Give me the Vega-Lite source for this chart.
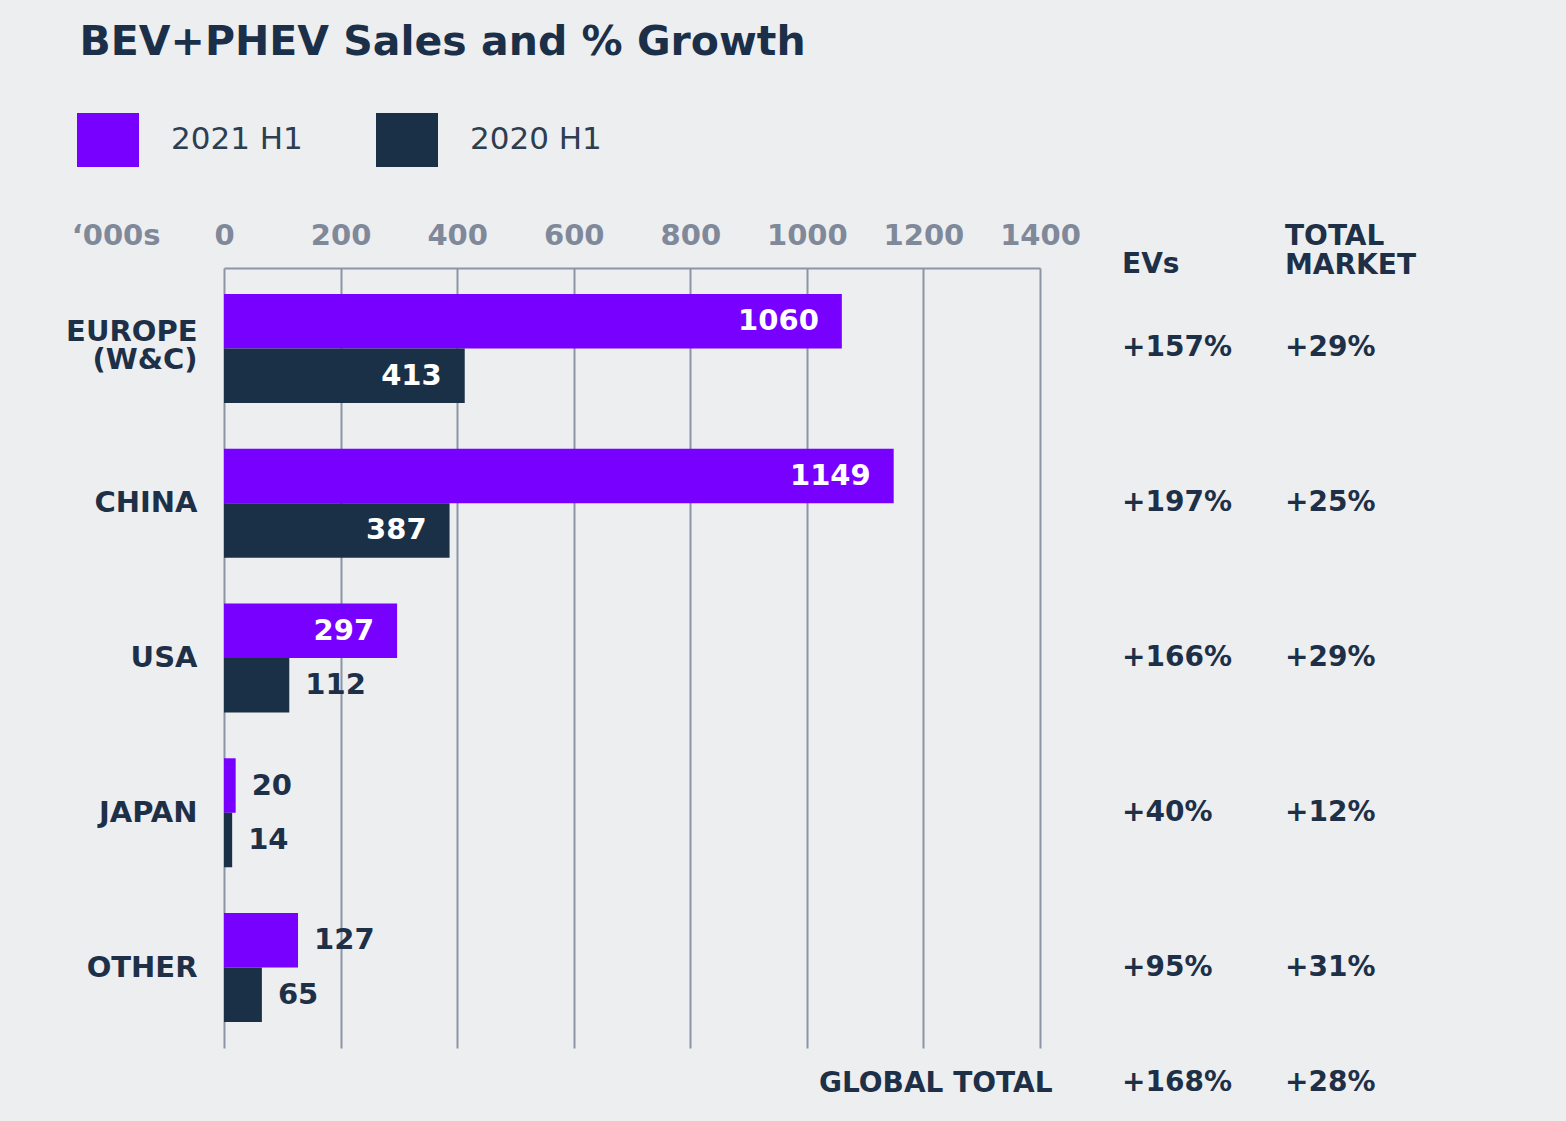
{
  "$schema": "https://vega.github.io/schema/vega-lite/v6.json",
  "background": "#edeef0",
  "padding": {"left": 65, "top": 22, "right": 118, "bottom": 18},
  "title": {"text": "BEV+PHEV Sales and % Growth", "anchor": "start", "fontSize": 41, "font": "DejaVu Sans", "fontWeight": "bold", "color": "#1b3048", "dx": 14, "offset": 45},
  "config": {
    "view": {"stroke": null},
    "font": "DejaVu Sans",
    "text": {"font": "DejaVu Sans", "fontWeight": "bold", "fontSize": 28},
    "axis": {"labelFont": "DejaVu Sans", "labelFontWeight": "bold", "labelFontSize": 29, "titleFont": "DejaVu Sans"}
  },
  "datasets": {
    "sales": [
      {"region": "EUROPE (W&C)", "series": "2021 H1", "value": 1060},
      {"region": "EUROPE (W&C)", "series": "2020 H1", "value": 413},
      {"region": "CHINA", "series": "2021 H1", "value": 1149},
      {"region": "CHINA", "series": "2020 H1", "value": 387},
      {"region": "USA", "series": "2021 H1", "value": 297},
      {"region": "USA", "series": "2020 H1", "value": 112},
      {"region": "JAPAN", "series": "2021 H1", "value": 20},
      {"region": "JAPAN", "series": "2020 H1", "value": 14},
      {"region": "OTHER", "series": "2021 H1", "value": 127},
      {"region": "OTHER", "series": "2020 H1", "value": 65}
    ],
    "growth": [
      {"region": "EUROPE (W&C)", "metric": "EVs", "value": "+157%"},
      {"region": "EUROPE (W&C)", "metric": "TOTAL MARKET", "value": "+29%"},
      {"region": "CHINA", "metric": "EVs", "value": "+197%"},
      {"region": "CHINA", "metric": "TOTAL MARKET", "value": "+25%"},
      {"region": "USA", "metric": "EVs", "value": "+166%"},
      {"region": "USA", "metric": "TOTAL MARKET", "value": "+29%"},
      {"region": "JAPAN", "metric": "EVs", "value": "+40%"},
      {"region": "JAPAN", "metric": "TOTAL MARKET", "value": "+12%"},
      {"region": "OTHER", "metric": "EVs", "value": "+95%"},
      {"region": "OTHER", "metric": "TOTAL MARKET", "value": "+31%"}
    ],
    "global": [
      {"region": "GLOBAL TOTAL", "metric": "EVs", "value": "+168%"},
      {"region": "GLOBAL TOTAL", "metric": "TOTAL MARKET", "value": "+28%"}
    ]
  },
  "spacing": 82,
  "bounds": "flush",
  "hconcat": [
    {
      "width": 816,
      "height": 780,
      "data": {"name": "sales"},
      "encoding": {
        "y": {"field": "region", "type": "nominal", "sort": ["EUROPE (W&C)", "CHINA", "USA", "JAPAN", "OTHER"],
              "scale": {"paddingInner": 0, "paddingOuter": 0.02},
              "axis": {"title": null, "domain": false, "ticks": false, "labelPadding": 27, "labelColor": "#1d3047", "labelLineHeight": 28,
                       "labelExpr": "split(datum.label, ' ')",
                       "labelOffset": {"condition": {"test": "indexof(datum.value, ' ') >= 0", "value": -16}, "value": 0}}},
        "yOffset": {"field": "series", "type": "nominal", "sort": ["2021 H1", "2020 H1"], "scale": {"paddingInner": 0, "paddingOuter": 0.42}},
        "x": {"field": "value", "type": "quantitative", "scale": {"domain": [0, 1400], "nice": false},
              "axis": {"orient": "top", "values": [0, 200, 400, 600, 800, 1000, 1200, 1400], "format": "d", "title": "‘000s",
                       "grid": true, "gridColor": "#8c95a4", "gridWidth": 2, "gridOpacity": 1,
                       "domain": true, "domainColor": "#8c95a4", "domainWidth": 2, "ticks": false,
                       "labelColor": "#7f899a", "labelPadding": 18, "labelFlush": false,
                       "titleColor": "#7f899a", "titleFontSize": 29, "titleFontWeight": "bold",
                       "titleX": -64, "titleY": -18, "titleAlign": "right", "titleBaseline": "bottom", "titleAngle": 0}}
      },
      "layer": [
        {
          "mark": {"type": "bar"},
          "encoding": {
            "color": {"field": "series", "type": "nominal",
                      "scale": {"domain": ["2021 H1", "2020 H1"], "range": ["#7700ff", "#1a3047"]},
                      "legend": {"orient": "none", "legendX": -147, "legendY": -159, "direction": "horizontal", "title": null,
                                 "symbolType": "M-1,-0.87H1V0.87H-1Z", "symbolSize": 3844, "symbolStrokeWidth": 0, "symbolOpacity": 1,
                                 "labelFontSize": 31, "labelFont": "DejaVu Sans", "labelFontWeight": "normal", "labelColor": "#2d3e50",
                                 "labelOffset": 32, "columnPadding": 73}
            }
          }
        },
        {
          "transform": [{"filter": "datum.value >= 250"}],
          "mark": {"type": "text", "align": "right", "dx": -23, "color": "#ffffff", "fontSize": 29},
          "encoding": {"text": {"field": "value", "type": "quantitative", "format": "d"}}
        },
        {
          "transform": [{"filter": "datum.value < 250"}],
          "mark": {"type": "text", "align": "left", "dx": 16, "color": "#1d3047", "fontSize": 29},
          "encoding": {"text": {"field": "value", "type": "quantitative", "format": "d"}}
        }
      ]
    },
    {
      "spacing": 15,
      "bounds": "flush",
      "vconcat": [
        {
          "width": 326,
          "height": 780,
          "data": {"name": "growth"},
          "mark": {"type": "text", "align": "left", "color": "#1d3047"},
          "encoding": {
            "y": {"field": "region", "type": "nominal", "sort": ["EUROPE (W&C)", "CHINA", "USA", "JAPAN", "OTHER"],
                  "scale": {"type": "band", "paddingInner": 0, "paddingOuter": 0.02}, "axis": null},
            "x": {"field": "metric", "type": "nominal", "sort": ["EVs", "TOTAL MARKET"], "bandPosition": 0,
                  "scale": {"type": "band", "paddingInner": 0, "paddingOuter": 0},
                  "axis": {"orient": "top", "title": null, "domain": false, "ticks": false, "grid": false,
                           "labelAlign": "left", "labelAngle": 0, "labelColor": "#1d3047", "labelOffset": -81.5,
                           "labelPadding": {"condition": {"test": "indexof(datum.value, ' ') >= 0", "value": 18}, "value": -10},
                           "labelFontSize": 28, "labelLineHeight": 29, "labelExpr": "split(datum.label, ' ')"}},
            "text": {"field": "value"}
          }
        },
        {
          "width": 326,
          "height": 40,
          "data": {"name": "global"},
          "mark": {"type": "text", "align": "left", "color": "#1d3047"},
          "encoding": {
            "y": {"field": "region", "type": "nominal",
                  "axis": {"title": null, "domain": false, "ticks": false, "labelPadding": 70, "labelLimit": 0, "labelFontSize": 28, "labelColor": "#1d3047"}},
            "x": {"field": "metric", "type": "nominal", "sort": ["EVs", "TOTAL MARKET"], "bandPosition": 0,
                  "scale": {"type": "band", "paddingInner": 0, "paddingOuter": 0}, "axis": null},
            "text": {"field": "value"}
          }
        }
      ]
    }
  ]
}
